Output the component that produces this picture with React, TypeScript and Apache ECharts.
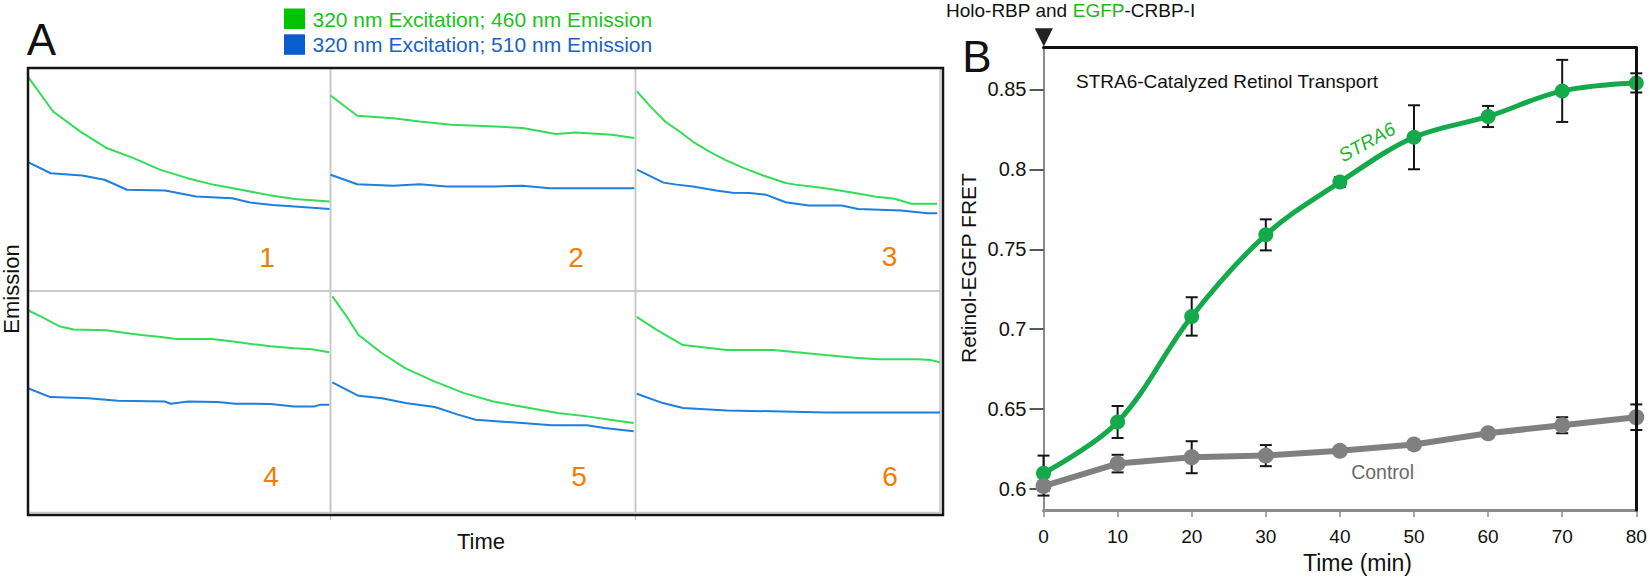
import React, { useEffect, useRef } from "react";
import * as echarts from "echarts";

// ---------- Panel A data (time %, emission % of cell height) ----------
const cell1Green = [[0, 96.0], [8.3, 80.5], [17.2, 71.6], [26.0, 64.1], [34.9, 59.6], [43.8, 54.3], [52.7, 50.6], [61.5, 47.6], [70.4, 45.4], [79.3, 43.1], [88.2, 41.3], [99.7, 40.1]];
const cell1Blue = [[0, 57.8], [7.5, 52.8], [17.9, 51.8], [25.3, 49.9], [32.7, 45.4], [45.3, 45.1], [55.6, 42.4], [67.5, 41.6], [73.4, 39.7], [80.8, 38.6], [88.2, 37.9], [99.7, 36.8]];
const cell2Green = [[0, 87.7], [8.8, 78.6], [20.5, 77.5], [29.3, 76.0], [39.5, 74.6], [54.2, 73.8], [63.0, 73.1], [73.9, 70.4], [80.5, 71.1], [92.2, 70.1], [99.6, 68.6]];
const cell2Blue = [[0, 52.1], [8.8, 47.9], [20.5, 47.2], [29.3, 47.9], [38.1, 46.9], [54.2, 46.9], [63.0, 47.2], [71.8, 46.1], [99.6, 46.1]];
const cell3Green = [[0.5, 89.5], [4.9, 82.7], [9.8, 75.9], [14.6, 71.4], [18.9, 66.9], [24.4, 62.4], [29.8, 58.6], [35.2, 55.3], [41.7, 51.9], [49.3, 48.4], [52.5, 47.7], [59.1, 46.6], [65.6, 45.4], [72.0, 43.9], [78.5, 42.4], [85.1, 41.4], [90.5, 39.1], [99.1, 39.1]];
const cell3Blue = [[0.5, 54.4], [9.2, 48.6], [13.5, 47.7], [18.9, 46.9], [26.5, 45.1], [31.9, 44.1], [37.4, 43.9], [42.8, 43.2], [49.3, 39.8], [56.9, 38.3], [67.7, 38.3], [73.1, 36.8], [87.2, 36.1], [95.9, 34.9], [99.1, 34.9]];
const cell4Green = [[0, 91.3], [4.5, 88.3], [10.3, 84.1], [15.1, 82.6], [25.8, 82.3], [31.7, 81.1], [37.5, 80.1], [43.3, 79.3], [49.1, 78.3], [60.8, 78.3], [68.5, 77.1], [74.4, 76.0], [80.2, 75.1], [88.0, 74.1], [93.8, 73.7], [99.6, 72.3]];
const cell4Blue = [[0, 56.1], [7.4, 52.1], [20.0, 51.6], [29.7, 50.4], [45.2, 50.1], [47.2, 49.1], [53.0, 50.1], [62.7, 49.9], [68.5, 49.1], [80.2, 49.0], [87.9, 47.9], [94.7, 47.9], [96.7, 48.7], [99.6, 48.7]];
const cell5Green = [[0.6, 97.6], [5.4, 88.3], [9.2, 80.1], [16.9, 71.9], [24.6, 65.1], [34.2, 59.1], [43.8, 53.9], [53.4, 50.1], [61.0, 48.2], [74.5, 44.9], [84.1, 43.4], [91.7, 41.9], [99.4, 40.4]];
const cell5Blue = [[0.6, 58.7], [9.2, 52.7], [16.9, 51.6], [24.6, 49.4], [34.2, 47.6], [41.8, 44.2], [47.6, 41.9], [62.9, 40.4], [72.5, 39.4], [84.1, 39.4], [89.8, 38.2], [99.4, 36.7]];
const cell6Green = [[0.4, 88.3], [7.1, 82.3], [15.6, 75.6], [30.0, 73.4], [45.2, 73.4], [62.4, 71.1], [71.9, 69.9], [79.6, 69.2], [92.6, 69.2], [97, 68.8], [100, 67.8]];
const cell6Blue = [[0.4, 53.6], [9.0, 49.4], [15.6, 47.2], [30.0, 46.1], [62.4, 45.2], [100, 45.2]];
const cellLabels = ["1", "2", "3", "4", "5", "6"];
const legendLabels = ["320 nm Excitation; 460 nm Emission", "320 nm Excitation; 510 nm Emission"];

// ---------- Panel B data ----------
const timeMin = [0, 10, 20, 30, 40, 50, 60, 70, 80];
const stra6Fret = [0.610, 0.642, 0.708, 0.759, 0.792, 0.820, 0.833, 0.849, 0.854];
const stra6Err = [0.011, 0.010, 0.012, 0.0097, 0.003, 0.020, 0.0066, 0.0194, 0.006];
const controlFret = [0.602, 0.616, 0.620, 0.621, 0.624, 0.628, 0.635, 0.640, 0.645];
const controlErr = [0.006, 0.0055, 0.010, 0.0066, 0.002, 0.002, 0.002, 0.005, 0.008];
const yTickValues = [0.6, 0.65, 0.7, 0.75, 0.8, 0.85];

const FONT = "'Liberation Sans', Arial, Helvetica, sans-serif";
const GREEN_TRACE = "#34dc58";
const BLUE_TRACE = "#1e7fdf";
const STRA6_COLOR = "#14a94a";
const CONTROL_COLOR = "#808080";
const ORANGE = "#f27d00";

function buildOption() {
  const colLeft = [28, 330.5, 635.5];
  const colW = [302.5, 305, 304.5];
  const rowTop = [68, 291];
  const rowH = [223, 221.5];
  const cellsGreen = [cell1Green, cell2Green, cell3Green, cell4Green, cell5Green, cell6Green];
  const cellsBlue = [cell1Blue, cell2Blue, cell3Blue, cell4Blue, cell5Blue, cell6Blue];

  const grid: any[] = [];
  const xAxis: any[] = [];
  const yAxis: any[] = [];
  const series: any[] = [];
  const graphic: any[] = [];

  for (let i = 0; i < 6; i++) {
    const c = i % 3;
    const r = Math.floor(i / 3);
    grid.push({
      left: colLeft[c], top: rowTop[r], width: colW[c], height: rowH[r],
      show: true, borderColor: "#c6c6c6", borderWidth: 1.5, backgroundColor: "transparent",
    });
    xAxis.push({ type: "value", gridIndex: i, min: 0, max: 100, show: false });
    yAxis.push({ type: "value", gridIndex: i, min: 0, max: 100, show: false });
    series.push({
      type: "line", xAxisIndex: i, yAxisIndex: i, data: cellsGreen[i], symbol: "none",
      lineStyle: { color: GREEN_TRACE, width: 2 }, silent: true, z: 3,
    });
    series.push({
      type: "line", xAxisIndex: i, yAxisIndex: i, data: cellsBlue[i], symbol: "none",
      lineStyle: { color: BLUE_TRACE, width: 2 }, silent: true, z: 3,
    });
  }

  // Panel B grid (index 6)
  grid.push({ left: 1043.5, top: 47.7, width: 592.8, height: 462.3 });
  xAxis.push({
    type: "value", gridIndex: 6, min: 0, max: 80, interval: 10,
    axisLine: { show: true, lineStyle: { color: "#8c8c8c", width: 3 } },
    axisTick: { show: true, inside: false, length: 7, lineStyle: { color: "#8c8c8c", width: 1.5 } },
    axisLabel: { fontSize: 19, color: "#111", fontFamily: FONT, margin: 17 },
    splitLine: { show: false },
  });
  xAxis.push({
    type: "value", gridIndex: 6, min: 0, max: 80, position: "top", z: 10,
    axisLine: { show: true, onZero: false, lineStyle: { color: "#111", width: 3 } },
    axisTick: { show: false }, axisLabel: { show: false }, splitLine: { show: false },
  });
  yAxis.push({
    type: "value", gridIndex: 6, min: 0.587, max: 0.876,
    axisLine: { show: true, onZero: false, lineStyle: { color: "#8c8c8c", width: 2 } },
    axisTick: { show: true, inside: false, length: 14, customValues: yTickValues, lineStyle: { color: "#222", width: 1.5 } },
    axisLabel: { fontSize: 20, color: "#111", fontFamily: FONT, margin: 17, customValues: yTickValues },
    splitLine: { show: false },
  });
  yAxis.push({
    type: "value", gridIndex: 6, min: 0.587, max: 0.876, position: "right", z: 10,
    axisLine: { show: true, onZero: false, lineStyle: { color: "#111", width: 3 } },
    axisTick: { show: false }, axisLabel: { show: false }, splitLine: { show: false },
  });

  const errRender = (params: any, api: any) => {
    const x = api.value(0);
    const lo = api.value(1);
    const hi = api.value(2);
    const top = api.coord([x, hi]);
    const bot = api.coord([x, lo]);
    const hw = 6;
    const st = { stroke: "#151515", lineWidth: 2 };
    return {
      type: "group",
      children: [
        { type: "line", shape: { x1: top[0], y1: top[1], x2: bot[0], y2: bot[1] }, style: st },
        { type: "line", shape: { x1: top[0] - hw, y1: top[1], x2: top[0] + hw, y2: top[1] }, style: st },
        { type: "line", shape: { x1: bot[0] - hw, y1: bot[1], x2: bot[0] + hw, y2: bot[1] }, style: st },
      ],
    };
  };

  series.push({
    type: "custom", xAxisIndex: 6, yAxisIndex: 6, renderItem: errRender, z: 1,
    encode: { x: 0, y: [1, 2] },
    data: timeMin.map((t, i) => [t, stra6Fret[i] - stra6Err[i], stra6Fret[i] + stra6Err[i]]),
  });
  series.push({
    type: "custom", xAxisIndex: 6, yAxisIndex: 6, renderItem: errRender, z: 1,
    encode: { x: 0, y: [1, 2] },
    data: timeMin.map((t, i) => [t, controlFret[i] - controlErr[i], controlFret[i] + controlErr[i]]),
  });
  series.push({
    type: "line", name: "STRA6", xAxisIndex: 6, yAxisIndex: 6, smooth: 0.35,
    data: timeMin.map((t, i) => [t, stra6Fret[i]]),
    symbol: "circle", symbolSize: 15, showAllSymbol: true,
    lineStyle: { color: STRA6_COLOR, width: 5 }, itemStyle: { color: STRA6_COLOR }, z: 3,
  });
  series.push({
    type: "line", name: "Control", xAxisIndex: 6, yAxisIndex: 6, smooth: false,
    data: timeMin.map((t, i) => [t, controlFret[i]]),
    symbol: "circle", symbolSize: 16, showAllSymbol: true,
    lineStyle: { color: CONTROL_COLOR, width: 6 }, itemStyle: { color: CONTROL_COLOR }, z: 4,
  });

  // ---------- Graphic decorations & texts ----------
  graphic.push({ type: "rect", shape: { x: 28, y: 68, width: 915, height: 447 }, style: { fill: "none", stroke: "#151515", lineWidth: 2.5 }, z: 100 });
  [330.5, 635.5].forEach((x) => {
    graphic.push({ type: "line", shape: { x1: x, y1: 516, x2: x, y2: 520 }, style: { stroke: "#c6c6c6", lineWidth: 1.5 } });
  });
  const legendColors = ["#00c400", "#0a5ccf"];
  const legendTextColors = ["#1cc21c", "#1a5fc9"];
  [8.5, 34.3].forEach((y, i) => {
    graphic.push({ type: "rect", shape: { x: 284, y, width: 21, height: 20.5 }, style: { fill: legendColors[i] } });
    graphic.push({
      type: "text", x: 312.5, y: y + 10.5,
      style: { text: legendLabels[i], fill: legendTextColors[i], font: `21px ${FONT}`, textVerticalAlign: "middle", textAlign: "left" },
    });
  });
  graphic.push({ type: "text", x: 41.5, y: 39, style: { text: "A", fill: "#111", font: `44px ${FONT}`, textAlign: "center", textVerticalAlign: "middle" } });
  graphic.push({ type: "text", x: 977, y: 56, style: { text: "B", fill: "#111", font: `44px ${FONT}`, textAlign: "center", textVerticalAlign: "middle" } });

  const numPos = [[267, 257], [576, 257], [889.6, 256], [271, 476], [579, 476], [890, 476]];
  numPos.forEach((p, i) => {
    graphic.push({ type: "text", x: p[0], y: p[1], style: { text: cellLabels[i], fill: ORANGE, font: `28px ${FONT}`, textAlign: "center", textVerticalAlign: "middle" } });
  });
  graphic.push({ type: "text", x: 11, y: 289, rotation: Math.PI / 2, style: { text: "Emission", fill: "#111", font: `22px ${FONT}`, textAlign: "center", textVerticalAlign: "middle" } });
  graphic.push({ type: "text", x: 481, y: 541.7, style: { text: "Time", fill: "#111", font: `22px ${FONT}`, textAlign: "center", textVerticalAlign: "middle" } });

  graphic.push({
    type: "text", x: 946, y: 10.3,
    style: {
      text: "{a|Holo-RBP and }{g|EGFP}{a|-CRBP-I}",
      rich: {
        a: { fill: "#111", fontSize: 19, fontFamily: FONT },
        g: { fill: "#1cb81c", fontSize: 19, fontFamily: FONT },
      },
      textAlign: "left", textVerticalAlign: "middle",
    },
  });
  graphic.push({ type: "polygon", shape: { points: [[1034.7, 28.3], [1052.9, 28.3], [1043.8, 46.5]] }, style: { fill: "#222" }, z: 100 });
  graphic.push({ type: "text", x: 1076, y: 81.7, style: { text: "STRA6-Catalyzed Retinol Transport", fill: "#111", font: `19px ${FONT}`, textAlign: "left", textVerticalAlign: "middle" } });
  graphic.push({ type: "text", x: 1367, y: 142, rotation: (29 * Math.PI) / 180, style: { text: "STRA6", fill: "#1db32a", font: `italic 19px ${FONT}`, textAlign: "center", textVerticalAlign: "middle" } });
  graphic.push({ type: "text", x: 1382.6, y: 471.7, style: { text: "Control", fill: "#6a6a6a", font: `19.5px ${FONT}`, textAlign: "center", textVerticalAlign: "middle" } });
  graphic.push({ type: "text", x: 968, y: 268, rotation: Math.PI / 2, style: { text: "Retinol-EGFP FRET", fill: "#111", font: `21px ${FONT}`, textAlign: "center", textVerticalAlign: "middle" } });
  graphic.push({ type: "text", x: 1357.5, y: 563, style: { text: "Time (min)", fill: "#111", font: `23px ${FONT}`, textAlign: "center", textVerticalAlign: "middle" } });

  return {
    animation: false,
    backgroundColor: "#ffffff",
    textStyle: { fontFamily: FONT },
    grid, xAxis, yAxis, series, graphic,
  };
}

export default function App() {
  const ref = useRef<HTMLDivElement>(null);
  useEffect(() => {
    if (!ref.current) return;
    const chart = echarts.init(ref.current, undefined, { renderer: "svg" });
    chart.setOption(buildOption() as any);
    return () => chart.dispose();
  }, []);
  return <div ref={ref} style={{ position: "absolute", left: 0, top: 0, width: 1650, height: 580 }} />;
}
